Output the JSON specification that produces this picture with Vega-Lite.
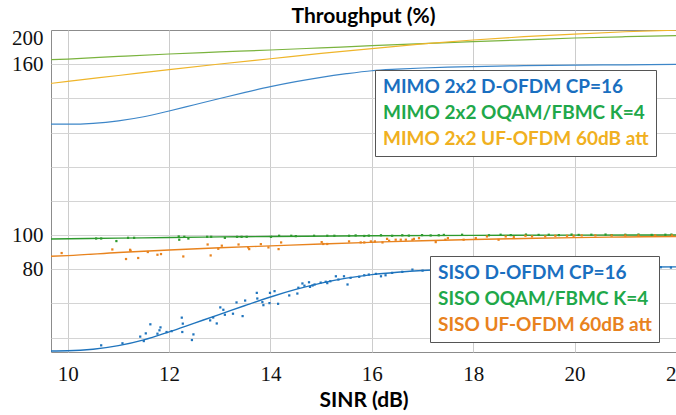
{
  "$schema": "https://vega.github.io/schema/vega-lite/v6.json",
  "width": 625,
  "height": 322,
  "autosize": {"type": "none"},
  "padding": {"left": 51, "top": 30, "right": 0, "bottom": 63},
  "background": "white",
  "config": {"view": {"stroke": "#8c8c8c"}, "axis": {"labelOverlap": false, "labelBound": false}},
  "title": {"text": "Throughput (%)", "font": "Lato", "fontSize": 21, "fontWeight": "bold", "anchor": "middle", "offset": 0, "color": "#000"},
  "datasets": {
    "sisoFit": [
      {"sinr": 9.67, "thr": 32.2, "series": "SISO D-OFDM CP=16"},
      {"sinr": 10, "thr": 32.3, "series": "SISO D-OFDM CP=16"},
      {"sinr": 10.5, "thr": 33.2, "series": "SISO D-OFDM CP=16"},
      {"sinr": 11, "thr": 35.3, "series": "SISO D-OFDM CP=16"},
      {"sinr": 11.5, "thr": 38.7, "series": "SISO D-OFDM CP=16"},
      {"sinr": 12, "thr": 43.4, "series": "SISO D-OFDM CP=16"},
      {"sinr": 12.5, "thr": 48.5, "series": "SISO D-OFDM CP=16"},
      {"sinr": 13, "thr": 53.6, "series": "SISO D-OFDM CP=16"},
      {"sinr": 13.5, "thr": 58.8, "series": "SISO D-OFDM CP=16"},
      {"sinr": 14, "thr": 63.8, "series": "SISO D-OFDM CP=16"},
      {"sinr": 14.5, "thr": 68.2, "series": "SISO D-OFDM CP=16"},
      {"sinr": 15, "thr": 71.9, "series": "SISO D-OFDM CP=16"},
      {"sinr": 15.5, "thr": 74.8, "series": "SISO D-OFDM CP=16"},
      {"sinr": 16, "thr": 76.9, "series": "SISO D-OFDM CP=16"},
      {"sinr": 16.5, "thr": 78.3, "series": "SISO D-OFDM CP=16"},
      {"sinr": 17, "thr": 79.3, "series": "SISO D-OFDM CP=16"},
      {"sinr": 17.5, "thr": 79.9, "series": "SISO D-OFDM CP=16"},
      {"sinr": 18, "thr": 80.3, "series": "SISO D-OFDM CP=16"},
      {"sinr": 19, "thr": 80.8, "series": "SISO D-OFDM CP=16"},
      {"sinr": 20, "thr": 81.1, "series": "SISO D-OFDM CP=16"},
      {"sinr": 21, "thr": 81.3, "series": "SISO D-OFDM CP=16"},
      {"sinr": 22, "thr": 81.4, "series": "SISO D-OFDM CP=16"},
      {"sinr": 9.67, "thr": 97.7, "series": "SISO OQAM/FBMC K=4"},
      {"sinr": 11, "thr": 98.2, "series": "SISO OQAM/FBMC K=4"},
      {"sinr": 12, "thr": 98.6, "series": "SISO OQAM/FBMC K=4"},
      {"sinr": 13, "thr": 98.95, "series": "SISO OQAM/FBMC K=4"},
      {"sinr": 14, "thr": 99.2, "series": "SISO OQAM/FBMC K=4"},
      {"sinr": 16, "thr": 99.6, "series": "SISO OQAM/FBMC K=4"},
      {"sinr": 18, "thr": 99.85, "series": "SISO OQAM/FBMC K=4"},
      {"sinr": 20, "thr": 100.0, "series": "SISO OQAM/FBMC K=4"},
      {"sinr": 22, "thr": 100.1, "series": "SISO OQAM/FBMC K=4"},
      {"sinr": 9.67, "thr": 87.6, "series": "SISO UF-OFDM 60dB att"},
      {"sinr": 10, "thr": 88.0, "series": "SISO UF-OFDM 60dB att"},
      {"sinr": 11, "thr": 89.8, "series": "SISO UF-OFDM 60dB att"},
      {"sinr": 12, "thr": 91.3, "series": "SISO UF-OFDM 60dB att"},
      {"sinr": 13, "thr": 92.6, "series": "SISO UF-OFDM 60dB att"},
      {"sinr": 14, "thr": 93.7, "series": "SISO UF-OFDM 60dB att"},
      {"sinr": 15, "thr": 94.8, "series": "SISO UF-OFDM 60dB att"},
      {"sinr": 16, "thr": 95.8, "series": "SISO UF-OFDM 60dB att"},
      {"sinr": 17, "thr": 96.7, "series": "SISO UF-OFDM 60dB att"},
      {"sinr": 18, "thr": 97.4, "series": "SISO UF-OFDM 60dB att"},
      {"sinr": 19, "thr": 98.0, "series": "SISO UF-OFDM 60dB att"},
      {"sinr": 20, "thr": 98.5, "series": "SISO UF-OFDM 60dB att"},
      {"sinr": 21, "thr": 98.9, "series": "SISO UF-OFDM 60dB att"},
      {"sinr": 22, "thr": 99.2, "series": "SISO UF-OFDM 60dB att"}
    ],
    "sisoPts": [
      {"sinr": 10.66, "thr": 35.5, "series": "SISO D-OFDM CP=16"},
      {"sinr": 11.08, "thr": 36.7, "series": "SISO D-OFDM CP=16"},
      {"sinr": 11.43, "thr": 40.6, "series": "SISO D-OFDM CP=16"},
      {"sinr": 11.5, "thr": 38.0, "series": "SISO D-OFDM CP=16"},
      {"sinr": 11.54, "thr": 42.5, "series": "SISO D-OFDM CP=16"},
      {"sinr": 11.63, "thr": 47.8, "series": "SISO D-OFDM CP=16"},
      {"sinr": 11.77, "thr": 42.3, "series": "SISO D-OFDM CP=16"},
      {"sinr": 11.81, "thr": 44.3, "series": "SISO D-OFDM CP=16"},
      {"sinr": 11.83, "thr": 46.0, "series": "SISO D-OFDM CP=16"},
      {"sinr": 11.95, "thr": 43.3, "series": "SISO D-OFDM CP=16"},
      {"sinr": 12.05, "thr": 43.8, "series": "SISO D-OFDM CP=16"},
      {"sinr": 12.25, "thr": 51.7, "series": "SISO D-OFDM CP=16"},
      {"sinr": 12.27, "thr": 48.2, "series": "SISO D-OFDM CP=16"},
      {"sinr": 12.26, "thr": 43.3, "series": "SISO D-OFDM CP=16"},
      {"sinr": 12.45, "thr": 38.6, "series": "SISO D-OFDM CP=16"},
      {"sinr": 12.48, "thr": 41.9, "series": "SISO D-OFDM CP=16"},
      {"sinr": 12.81, "thr": 50.1, "series": "SISO D-OFDM CP=16"},
      {"sinr": 12.87, "thr": 51.8, "series": "SISO D-OFDM CP=16"},
      {"sinr": 12.94, "thr": 48.3, "series": "SISO D-OFDM CP=16"},
      {"sinr": 13.01, "thr": 57.7, "series": "SISO D-OFDM CP=16"},
      {"sinr": 13.07, "thr": 56.3, "series": "SISO D-OFDM CP=16"},
      {"sinr": 13.1, "thr": 53.4, "series": "SISO D-OFDM CP=16"},
      {"sinr": 13.26, "thr": 54.0, "series": "SISO D-OFDM CP=16"},
      {"sinr": 13.33, "thr": 60.6, "series": "SISO D-OFDM CP=16"},
      {"sinr": 13.45, "thr": 52.6, "series": "SISO D-OFDM CP=16"},
      {"sinr": 13.5, "thr": 61.7, "series": "SISO D-OFDM CP=16"},
      {"sinr": 13.73, "thr": 66.2, "series": "SISO D-OFDM CP=16"},
      {"sinr": 13.74, "thr": 62.9, "series": "SISO D-OFDM CP=16"},
      {"sinr": 13.84, "thr": 60.8, "series": "SISO D-OFDM CP=16"},
      {"sinr": 13.86, "thr": 59.0, "series": "SISO D-OFDM CP=16"},
      {"sinr": 13.99, "thr": 66.2, "series": "SISO D-OFDM CP=16"},
      {"sinr": 13.98, "thr": 60.2, "series": "SISO D-OFDM CP=16"},
      {"sinr": 14.08, "thr": 67.2, "series": "SISO D-OFDM CP=16"},
      {"sinr": 14.15, "thr": 59.8, "series": "SISO D-OFDM CP=16"},
      {"sinr": 14.37, "thr": 64.7, "series": "SISO D-OFDM CP=16"},
      {"sinr": 14.53, "thr": 65.8, "series": "SISO D-OFDM CP=16"},
      {"sinr": 14.55, "thr": 69.2, "series": "SISO D-OFDM CP=16"},
      {"sinr": 14.63, "thr": 71.7, "series": "SISO D-OFDM CP=16"},
      {"sinr": 14.67, "thr": 70.4, "series": "SISO D-OFDM CP=16"},
      {"sinr": 14.76, "thr": 72.4, "series": "SISO D-OFDM CP=16"},
      {"sinr": 14.78, "thr": 69.7, "series": "SISO D-OFDM CP=16"},
      {"sinr": 14.83, "thr": 70.5, "series": "SISO D-OFDM CP=16"},
      {"sinr": 14.87, "thr": 71.1, "series": "SISO D-OFDM CP=16"},
      {"sinr": 14.99, "thr": 72.2, "series": "SISO D-OFDM CP=16"},
      {"sinr": 15.09, "thr": 72.7, "series": "SISO D-OFDM CP=16"},
      {"sinr": 15.12, "thr": 71.9, "series": "SISO D-OFDM CP=16"},
      {"sinr": 15.18, "thr": 73.0, "series": "SISO D-OFDM CP=16"},
      {"sinr": 15.29, "thr": 75.9, "series": "SISO D-OFDM CP=16"},
      {"sinr": 15.34, "thr": 74.0, "series": "SISO D-OFDM CP=16"},
      {"sinr": 15.45, "thr": 75.9, "series": "SISO D-OFDM CP=16"},
      {"sinr": 15.52, "thr": 71.1, "series": "SISO D-OFDM CP=16"},
      {"sinr": 15.58, "thr": 75.0, "series": "SISO D-OFDM CP=16"},
      {"sinr": 15.75, "thr": 75.6, "series": "SISO D-OFDM CP=16"},
      {"sinr": 15.85, "thr": 76.5, "series": "SISO D-OFDM CP=16"},
      {"sinr": 15.94, "thr": 76.9, "series": "SISO D-OFDM CP=16"},
      {"sinr": 16.08, "thr": 77.3, "series": "SISO D-OFDM CP=16"},
      {"sinr": 16.18, "thr": 75.9, "series": "SISO D-OFDM CP=16"},
      {"sinr": 16.27, "thr": 76.5, "series": "SISO D-OFDM CP=16"},
      {"sinr": 16.4, "thr": 77.9, "series": "SISO D-OFDM CP=16"},
      {"sinr": 16.6, "thr": 78.5, "series": "SISO D-OFDM CP=16"},
      {"sinr": 16.8, "thr": 79.8, "series": "SISO D-OFDM CP=16"},
      {"sinr": 17.0, "thr": 79.2, "series": "SISO D-OFDM CP=16"},
      {"sinr": 21.7, "thr": 81.2, "series": "SISO D-OFDM CP=16"},
      {"sinr": 21.9, "thr": 81.0, "series": "SISO D-OFDM CP=16"},
      {"sinr": 10.56, "thr": 98.0, "series": "SISO OQAM/FBMC K=4"},
      {"sinr": 10.66, "thr": 98.0, "series": "SISO OQAM/FBMC K=4"},
      {"sinr": 10.96, "thr": 96.5, "series": "SISO OQAM/FBMC K=4"},
      {"sinr": 11.19, "thr": 98.4, "series": "SISO OQAM/FBMC K=4"},
      {"sinr": 11.31, "thr": 98.4, "series": "SISO OQAM/FBMC K=4"},
      {"sinr": 12.19, "thr": 99.2, "series": "SISO OQAM/FBMC K=4"},
      {"sinr": 12.2, "thr": 97.3, "series": "SISO OQAM/FBMC K=4"},
      {"sinr": 12.3, "thr": 99.0, "series": "SISO OQAM/FBMC K=4"},
      {"sinr": 12.38, "thr": 98.0, "series": "SISO OQAM/FBMC K=4"},
      {"sinr": 12.75, "thr": 99.0, "series": "SISO OQAM/FBMC K=4"},
      {"sinr": 12.83, "thr": 99.0, "series": "SISO OQAM/FBMC K=4"},
      {"sinr": 13.1, "thr": 98.4, "series": "SISO OQAM/FBMC K=4"},
      {"sinr": 13.34, "thr": 99.0, "series": "SISO OQAM/FBMC K=4"},
      {"sinr": 13.43, "thr": 99.0, "series": "SISO OQAM/FBMC K=4"},
      {"sinr": 13.53, "thr": 99.0, "series": "SISO OQAM/FBMC K=4"},
      {"sinr": 14.01, "thr": 99.0, "series": "SISO OQAM/FBMC K=4"},
      {"sinr": 14.17, "thr": 99.6, "series": "SISO OQAM/FBMC K=4"},
      {"sinr": 14.41, "thr": 99.6, "series": "SISO OQAM/FBMC K=4"},
      {"sinr": 14.5, "thr": 99.4, "series": "SISO OQAM/FBMC K=4"},
      {"sinr": 14.86, "thr": 99.6, "series": "SISO OQAM/FBMC K=4"},
      {"sinr": 15.12, "thr": 99.6, "series": "SISO OQAM/FBMC K=4"},
      {"sinr": 15.26, "thr": 99.6, "series": "SISO OQAM/FBMC K=4"},
      {"sinr": 15.55, "thr": 99.6, "series": "SISO OQAM/FBMC K=4"},
      {"sinr": 15.68, "thr": 99.8, "series": "SISO OQAM/FBMC K=4"},
      {"sinr": 15.85, "thr": 99.5, "series": "SISO OQAM/FBMC K=4"},
      {"sinr": 15.94, "thr": 99.7, "series": "SISO OQAM/FBMC K=4"},
      {"sinr": 16.18, "thr": 99.9, "series": "SISO OQAM/FBMC K=4"},
      {"sinr": 16.4, "thr": 99.6, "series": "SISO OQAM/FBMC K=4"},
      {"sinr": 16.6, "thr": 99.9, "series": "SISO OQAM/FBMC K=4"},
      {"sinr": 16.73, "thr": 99.7, "series": "SISO OQAM/FBMC K=4"},
      {"sinr": 16.99, "thr": 100.0, "series": "SISO OQAM/FBMC K=4"},
      {"sinr": 17.16, "thr": 99.8, "series": "SISO OQAM/FBMC K=4"},
      {"sinr": 17.32, "thr": 99.9, "series": "SISO OQAM/FBMC K=4"},
      {"sinr": 17.42, "thr": 100.1, "series": "SISO OQAM/FBMC K=4"},
      {"sinr": 17.78, "thr": 100.2, "series": "SISO OQAM/FBMC K=4"},
      {"sinr": 18.31, "thr": 99.9, "series": "SISO OQAM/FBMC K=4"},
      {"sinr": 18.54, "thr": 100.2, "series": "SISO OQAM/FBMC K=4"},
      {"sinr": 18.74, "thr": 100.0, "series": "SISO OQAM/FBMC K=4"},
      {"sinr": 19.04, "thr": 100.3, "series": "SISO OQAM/FBMC K=4"},
      {"sinr": 19.29, "thr": 100.1, "series": "SISO OQAM/FBMC K=4"},
      {"sinr": 19.49, "thr": 100.2, "series": "SISO OQAM/FBMC K=4"},
      {"sinr": 19.69, "thr": 100.0, "series": "SISO OQAM/FBMC K=4"},
      {"sinr": 19.94, "thr": 100.3, "series": "SISO OQAM/FBMC K=4"},
      {"sinr": 20.08, "thr": 100.1, "series": "SISO OQAM/FBMC K=4"},
      {"sinr": 20.33, "thr": 100.2, "series": "SISO OQAM/FBMC K=4"},
      {"sinr": 20.61, "thr": 100.3, "series": "SISO OQAM/FBMC K=4"},
      {"sinr": 20.73, "thr": 100.0, "series": "SISO OQAM/FBMC K=4"},
      {"sinr": 21.0, "thr": 100.2, "series": "SISO OQAM/FBMC K=4"},
      {"sinr": 21.26, "thr": 100.3, "series": "SISO OQAM/FBMC K=4"},
      {"sinr": 21.52, "thr": 100.1, "series": "SISO OQAM/FBMC K=4"},
      {"sinr": 21.79, "thr": 100.2, "series": "SISO OQAM/FBMC K=4"},
      {"sinr": 21.91, "thr": 100.3, "series": "SISO OQAM/FBMC K=4"},
      {"sinr": 9.88, "thr": 89.5, "series": "SISO UF-OFDM 60dB att"},
      {"sinr": 10.88, "thr": 91.6, "series": "SISO UF-OFDM 60dB att"},
      {"sinr": 11.15, "thr": 86.0, "series": "SISO UF-OFDM 60dB att"},
      {"sinr": 11.23, "thr": 91.4, "series": "SISO UF-OFDM 60dB att"},
      {"sinr": 11.24, "thr": 90.8, "series": "SISO UF-OFDM 60dB att"},
      {"sinr": 11.39, "thr": 86.6, "series": "SISO UF-OFDM 60dB att"},
      {"sinr": 11.58, "thr": 90.1, "series": "SISO UF-OFDM 60dB att"},
      {"sinr": 11.77, "thr": 88.5, "series": "SISO UF-OFDM 60dB att"},
      {"sinr": 11.84, "thr": 88.9, "series": "SISO UF-OFDM 60dB att"},
      {"sinr": 12.28, "thr": 87.5, "series": "SISO UF-OFDM 60dB att"},
      {"sinr": 12.76, "thr": 94.5, "series": "SISO UF-OFDM 60dB att"},
      {"sinr": 12.82, "thr": 88.1, "series": "SISO UF-OFDM 60dB att"},
      {"sinr": 12.97, "thr": 92.0, "series": "SISO UF-OFDM 60dB att"},
      {"sinr": 13.04, "thr": 93.8, "series": "SISO UF-OFDM 60dB att"},
      {"sinr": 13.37, "thr": 94.5, "series": "SISO UF-OFDM 60dB att"},
      {"sinr": 13.56, "thr": 92.8, "series": "SISO UF-OFDM 60dB att"},
      {"sinr": 13.58, "thr": 91.8, "series": "SISO UF-OFDM 60dB att"},
      {"sinr": 13.81, "thr": 94.7, "series": "SISO UF-OFDM 60dB att"},
      {"sinr": 13.96, "thr": 92.8, "series": "SISO UF-OFDM 60dB att"},
      {"sinr": 14.16, "thr": 91.8, "series": "SISO UF-OFDM 60dB att"},
      {"sinr": 14.21, "thr": 95.7, "series": "SISO UF-OFDM 60dB att"},
      {"sinr": 15.01, "thr": 95.9, "series": "SISO UF-OFDM 60dB att"},
      {"sinr": 15.04, "thr": 94.8, "series": "SISO UF-OFDM 60dB att"},
      {"sinr": 15.12, "thr": 94.8, "series": "SISO UF-OFDM 60dB att"},
      {"sinr": 15.55, "thr": 96.3, "series": "SISO UF-OFDM 60dB att"},
      {"sinr": 15.78, "thr": 95.7, "series": "SISO UF-OFDM 60dB att"},
      {"sinr": 15.85, "thr": 95.7, "series": "SISO UF-OFDM 60dB att"},
      {"sinr": 15.98, "thr": 96.3, "series": "SISO UF-OFDM 60dB att"},
      {"sinr": 16.06, "thr": 96.3, "series": "SISO UF-OFDM 60dB att"},
      {"sinr": 16.21, "thr": 95.7, "series": "SISO UF-OFDM 60dB att"},
      {"sinr": 16.3, "thr": 97.8, "series": "SISO UF-OFDM 60dB att"},
      {"sinr": 16.34, "thr": 96.7, "series": "SISO UF-OFDM 60dB att"},
      {"sinr": 16.47, "thr": 97.3, "series": "SISO UF-OFDM 60dB att"},
      {"sinr": 16.57, "thr": 97.3, "series": "SISO UF-OFDM 60dB att"},
      {"sinr": 16.67, "thr": 97.3, "series": "SISO UF-OFDM 60dB att"},
      {"sinr": 16.8, "thr": 97.3, "series": "SISO UF-OFDM 60dB att"},
      {"sinr": 16.83, "thr": 97.8, "series": "SISO UF-OFDM 60dB att"},
      {"sinr": 16.93, "thr": 98.2, "series": "SISO UF-OFDM 60dB att"},
      {"sinr": 17.26, "thr": 95.9, "series": "SISO UF-OFDM 60dB att"},
      {"sinr": 17.45, "thr": 97.3, "series": "SISO UF-OFDM 60dB att"},
      {"sinr": 17.5, "thr": 98.2, "series": "SISO UF-OFDM 60dB att"},
      {"sinr": 17.81, "thr": 97.3, "series": "SISO UF-OFDM 60dB att"},
      {"sinr": 18.05, "thr": 98.2, "series": "SISO UF-OFDM 60dB att"},
      {"sinr": 18.27, "thr": 99.2, "series": "SISO UF-OFDM 60dB att"},
      {"sinr": 18.5, "thr": 97.3, "series": "SISO UF-OFDM 60dB att"},
      {"sinr": 18.64, "thr": 99.2, "series": "SISO UF-OFDM 60dB att"},
      {"sinr": 18.8, "thr": 98.8, "series": "SISO UF-OFDM 60dB att"},
      {"sinr": 19.03, "thr": 99.6, "series": "SISO UF-OFDM 60dB att"},
      {"sinr": 19.16, "thr": 99.2, "series": "SISO UF-OFDM 60dB att"},
      {"sinr": 19.42, "thr": 99.2, "series": "SISO UF-OFDM 60dB att"},
      {"sinr": 19.62, "thr": 99.6, "series": "SISO UF-OFDM 60dB att"},
      {"sinr": 19.85, "thr": 99.6, "series": "SISO UF-OFDM 60dB att"},
      {"sinr": 19.98, "thr": 99.6, "series": "SISO UF-OFDM 60dB att"},
      {"sinr": 20.14, "thr": 99.8, "series": "SISO UF-OFDM 60dB att"},
      {"sinr": 20.41, "thr": 99.8, "series": "SISO UF-OFDM 60dB att"},
      {"sinr": 20.73, "thr": 99.8, "series": "SISO UF-OFDM 60dB att"},
      {"sinr": 21.0, "thr": 99.8, "series": "SISO UF-OFDM 60dB att"},
      {"sinr": 21.26, "thr": 99.8, "series": "SISO UF-OFDM 60dB att"},
      {"sinr": 21.59, "thr": 99.8, "series": "SISO UF-OFDM 60dB att"},
      {"sinr": 21.92, "thr": 99.8, "series": "SISO UF-OFDM 60dB att"}
    ],
    "mimoFit": [
      {"sinr": 9.67, "thr": 69, "series": "MIMO 2x2 D-OFDM CP=16"},
      {"sinr": 10, "thr": 69, "series": "MIMO 2x2 D-OFDM CP=16"},
      {"sinr": 10.5, "thr": 70.3, "series": "MIMO 2x2 D-OFDM CP=16"},
      {"sinr": 11, "thr": 74, "series": "MIMO 2x2 D-OFDM CP=16"},
      {"sinr": 11.5, "thr": 80.2, "series": "MIMO 2x2 D-OFDM CP=16"},
      {"sinr": 12, "thr": 89, "series": "MIMO 2x2 D-OFDM CP=16"},
      {"sinr": 12.5, "thr": 98.5, "series": "MIMO 2x2 D-OFDM CP=16"},
      {"sinr": 13, "thr": 108, "series": "MIMO 2x2 D-OFDM CP=16"},
      {"sinr": 13.5, "thr": 117.3, "series": "MIMO 2x2 D-OFDM CP=16"},
      {"sinr": 14, "thr": 126, "series": "MIMO 2x2 D-OFDM CP=16"},
      {"sinr": 14.5, "thr": 133.6, "series": "MIMO 2x2 D-OFDM CP=16"},
      {"sinr": 15, "thr": 140.2, "series": "MIMO 2x2 D-OFDM CP=16"},
      {"sinr": 15.5, "thr": 145.7, "series": "MIMO 2x2 D-OFDM CP=16"},
      {"sinr": 16, "thr": 150.2, "series": "MIMO 2x2 D-OFDM CP=16"},
      {"sinr": 16.5, "thr": 152.6, "series": "MIMO 2x2 D-OFDM CP=16"},
      {"sinr": 17, "thr": 154.4, "series": "MIMO 2x2 D-OFDM CP=16"},
      {"sinr": 17.5, "thr": 155.7, "series": "MIMO 2x2 D-OFDM CP=16"},
      {"sinr": 18, "thr": 156.6, "series": "MIMO 2x2 D-OFDM CP=16"},
      {"sinr": 19, "thr": 157.9, "series": "MIMO 2x2 D-OFDM CP=16"},
      {"sinr": 20, "thr": 158.7, "series": "MIMO 2x2 D-OFDM CP=16"},
      {"sinr": 21, "thr": 159.3, "series": "MIMO 2x2 D-OFDM CP=16"},
      {"sinr": 22, "thr": 159.8, "series": "MIMO 2x2 D-OFDM CP=16"},
      {"sinr": 9.67, "thr": 167, "series": "MIMO 2x2 OQAM/FBMC K=4"},
      {"sinr": 10, "thr": 168, "series": "MIMO 2x2 OQAM/FBMC K=4"},
      {"sinr": 11, "thr": 172, "series": "MIMO 2x2 OQAM/FBMC K=4"},
      {"sinr": 12, "thr": 175.7, "series": "MIMO 2x2 OQAM/FBMC K=4"},
      {"sinr": 13, "thr": 178.8, "series": "MIMO 2x2 OQAM/FBMC K=4"},
      {"sinr": 14, "thr": 181.8, "series": "MIMO 2x2 OQAM/FBMC K=4"},
      {"sinr": 15, "thr": 185, "series": "MIMO 2x2 OQAM/FBMC K=4"},
      {"sinr": 16, "thr": 188.3, "series": "MIMO 2x2 OQAM/FBMC K=4"},
      {"sinr": 17, "thr": 191.4, "series": "MIMO 2x2 OQAM/FBMC K=4"},
      {"sinr": 18, "thr": 194.4, "series": "MIMO 2x2 OQAM/FBMC K=4"},
      {"sinr": 19, "thr": 197.3, "series": "MIMO 2x2 OQAM/FBMC K=4"},
      {"sinr": 20, "thr": 200, "series": "MIMO 2x2 OQAM/FBMC K=4"},
      {"sinr": 21, "thr": 202, "series": "MIMO 2x2 OQAM/FBMC K=4"},
      {"sinr": 22, "thr": 203.5, "series": "MIMO 2x2 OQAM/FBMC K=4"},
      {"sinr": 9.67, "thr": 131, "series": "MIMO 2x2 UF-OFDM 60dB att"},
      {"sinr": 10, "thr": 134, "series": "MIMO 2x2 UF-OFDM 60dB att"},
      {"sinr": 11, "thr": 143, "series": "MIMO 2x2 UF-OFDM 60dB att"},
      {"sinr": 12, "thr": 152, "series": "MIMO 2x2 UF-OFDM 60dB att"},
      {"sinr": 13, "thr": 160.5, "series": "MIMO 2x2 UF-OFDM 60dB att"},
      {"sinr": 14, "thr": 168.5, "series": "MIMO 2x2 UF-OFDM 60dB att"},
      {"sinr": 15, "thr": 176.5, "series": "MIMO 2x2 UF-OFDM 60dB att"},
      {"sinr": 16, "thr": 184, "series": "MIMO 2x2 UF-OFDM 60dB att"},
      {"sinr": 17, "thr": 191, "series": "MIMO 2x2 UF-OFDM 60dB att"},
      {"sinr": 18, "thr": 197, "series": "MIMO 2x2 UF-OFDM 60dB att"},
      {"sinr": 19, "thr": 202, "series": "MIMO 2x2 UF-OFDM 60dB att"},
      {"sinr": 20, "thr": 206, "series": "MIMO 2x2 UF-OFDM 60dB att"},
      {"sinr": 21, "thr": 209.5, "series": "MIMO 2x2 UF-OFDM 60dB att"},
      {"sinr": 22, "thr": 212, "series": "MIMO 2x2 UF-OFDM 60dB att"}
    ]
  },
  "layer": [
    {
      "layer": [
        {
          "data": {"name": "sisoFit"},
          "mark": {"type": "line", "strokeWidth": 1.4, "interpolate": "monotone", "clip": true},
          "encoding": {
            "x": {"field": "sinr", "type": "quantitative", "scale": {"domain": [9.67, 22], "nice": false, "zero": false},
              "axis": {"values": [10, 12, 14, 16, 18, 20, 22], "grid": true, "gridColor": "#cccccc", "ticks": false, "domain": false, "labelFont": "Liberation Serif", "labelFontSize": 21, "labelColor": "#111", "labelPadding": 11, "labelOverlap": false, "labelBound": false, "labelFlush": false, "title": "SINR (dB)", "titleFont": "Lato", "titleFontSize": 21, "titleFontWeight": "bold", "titleColor": "#000", "titlePadding": 5}},
            "y": {"field": "thr", "type": "quantitative", "scale": {"domain": [31.6, 220], "nice": false, "zero": false},
              "axis": {"orient": "left", "values": [40, 60, 80, 100, 120, 140, 160, 180, 200], "labelExpr": "datum.value == 80 ? '80' : (datum.value == 100 ? '100' : ' ')", "grid": true, "gridColor": "#d4d4d4", "ticks": false, "domain": false, "labelFont": "Liberation Serif", "labelFontSize": 21, "labelColor": "#111", "labelPadding": 8, "labelOverlap": false, "labelSeparation": 0, "labelBound": false, "title": null}},
            "color": {"field": "series", "type": "nominal",
              "scale": {"domain": ["SISO D-OFDM CP=16", "SISO OQAM/FBMC K=4", "SISO UF-OFDM 60dB att"], "range": ["#1f74bd", "#2e9a2e", "#e8831e"]},
              "legend": {"title": null, "orient": "none", "legendX": 379, "legendY": 226, "fillColor": "white", "strokeColor": "#555", "padding": 7, "symbolSize": 0, "symbolStrokeWidth": 0, "symbolOpacity": 0, "labelOffset": -18, "labelFont": "Lato", "labelFontSize": 19, "labelFontWeight": "bold", "labelLimit": 400, "rowPadding": 6,
                "encode": {"labels": {"update": {"fill": {"signal": "datum.label == 'SISO D-OFDM CP=16' ? '#1a6fc0' : (datum.label == 'SISO OQAM/FBMC K=4' ? '#1fa84a' : '#e8821e')"}}}}}}
          }
        },
        {
          "data": {"name": "sisoPts"},
          "mark": {"type": "point", "filled": true, "shape": "square", "size": 5, "opacity": 1, "clip": true},
          "encoding": {
            "x": {"field": "sinr", "type": "quantitative",
              "axis": {"values": [10, 12, 14, 16, 18, 20, 22], "grid": true, "gridColor": "#cccccc", "ticks": false, "domain": false, "labelFont": "Liberation Serif", "labelFontSize": 21, "labelColor": "#111", "labelPadding": 11, "labelOverlap": false, "labelBound": false, "labelFlush": false, "title": "SINR (dB)", "titleFont": "Lato", "titleFontSize": 21, "titleFontWeight": "bold", "titleColor": "#000", "titlePadding": 5}},
            "y": {"field": "thr", "type": "quantitative",
              "axis": {"orient": "left", "values": [40, 60, 80, 100, 120, 140, 160, 180, 200], "labelExpr": "datum.value == 80 ? '80' : (datum.value == 100 ? '100' : ' ')", "grid": true, "gridColor": "#d4d4d4", "ticks": false, "domain": false, "labelFont": "Liberation Serif", "labelFontSize": 21, "labelColor": "#111", "labelPadding": 8, "labelOverlap": false, "labelSeparation": 0, "labelBound": false, "title": null}},
            "color": {"field": "series", "type": "nominal"}
          }
        }
      ]
    },
    {
      "data": {"name": "mimoFit"},
      "mark": {"type": "line", "strokeWidth": 1.2, "interpolate": "monotone", "clip": true},
      "encoding": {
        "x": {"field": "sinr", "type": "quantitative"},
        "y": {"field": "thr", "type": "quantitative", "scale": {"domain": [-277.6, 212.2], "nice": false, "zero": false},
          "axis": {"orient": "left", "values": [160, 200], "grid": false, "ticks": false, "domain": false, "labelFont": "Liberation Serif", "labelFontSize": 21, "labelColor": "#111", "labelPadding": 8, "labelOverlap": false, "labelBound": false, "title": null}},
        "color": {"field": "series", "type": "nominal",
          "scale": {"domain": ["MIMO 2x2 D-OFDM CP=16", "MIMO 2x2 OQAM/FBMC K=4", "MIMO 2x2 UF-OFDM 60dB att"], "range": ["#3d86c8", "#7ab33e", "#efb52a"]},
          "legend": {"title": null, "orient": "none", "legendX": 324, "legendY": 40, "fillColor": "white", "strokeColor": "#555", "padding": 7, "symbolSize": 0, "symbolStrokeWidth": 0, "symbolOpacity": 0, "labelOffset": -18, "labelFont": "Lato", "labelFontSize": 19, "labelFontWeight": "bold", "labelLimit": 400, "rowPadding": 6,
            "encode": {"labels": {"update": {"fill": {"signal": "datum.label == 'MIMO 2x2 D-OFDM CP=16' ? '#1a6fc0' : (datum.label == 'MIMO 2x2 OQAM/FBMC K=4' ? '#1fa84a' : '#f0b020')"}}}}}}
      }
    }
  ],
  "resolve": {"scale": {"y": "independent", "color": "independent"}}
}
